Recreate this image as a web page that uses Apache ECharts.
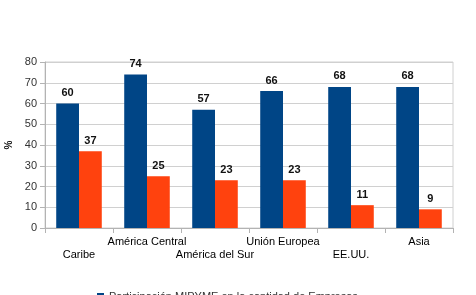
<!DOCTYPE html>
<html>
<head>
<meta charset="utf-8">
<script src="https://cdn.jsdelivr.net/npm/echarts@6/dist/echarts.min.js"></script>
<style>
  html, body { margin: 0; padding: 0; background: #fff; }
  #chart { width: 476px; height: 295px; }
</style>
</head>
<body>
<div id="chart"></div>
<script>
// categorías (regiones)
var regiones = ["Caribe", "América Central", "América del Sur", "Unión Europea", "EE.UU.", "Asia"]
// serie 1: participación en la cantidad de empresas
var empresas = [60, 74, 57, 66, 68, 68]
// serie 2: participación en el empleo
var empleo = [37, 25, 23, 23, 11, 9]
var nombres = ["Participación MIPYME en la cantidad de Empresas", "Participación MIPYME en el Empleo"]

var myChart = echarts.init(document.getElementById("chart"))
var fuente = "Liberation Sans, Arial, sans-serif"

var option = {
  animation: false,
  textStyle: { fontFamily: fuente },
  color: ["#004586", "#ff420e"],
  legend: {
    // sólo se ve la primera entrada, la otra queda fuera del recorte
    data: [nombres[0]],
    left: 92,
    top: 286,
    itemWidth: 7,
    itemHeight: 7,
    icon: "rect",
    textStyle: { fontSize: 11, color: "#333", fontFamily: fuente },
  },
  grid: {
    left: 45,
    right: 23,
    top: 62,
    bottom: 67,
    outerBoundsMode: "none",
    containLabel: false,
    show: true,
    borderColor: "#d0d0d0",
    borderWidth: 1,
  },
  xAxis: {
    type: "category",
    data: regiones,
    axisLine: { lineStyle: { color: "#b3b3b3" } },
    axisTick: { show: true, length: 5, lineStyle: { color: "#b3b3b3" } },
    axisLabel: {
      interval: 0,
      margin: 7,
      fontSize: 11,
      lineHeight: 13,
      color: "#000",
      fontFamily: fuente,
      // etiquetas escalonadas
      formatter: function (v, i) {
        return i % 2 === 0 ? "\n" + v : v
      },
    },
  },
  yAxis: {
    type: "value",
    min: 0,
    max: 80,
    interval: 10,
    name: "%",
    nameLocation: "middle",
    nameRotate: 90,
    nameGap: 31,
    nameTextStyle: { fontSize: 10, color: "#111", fontWeight: "bold" },
    axisLine: { show: true, lineStyle: { color: "#b3b3b3" } },
    axisTick: { show: true, length: 5, lineStyle: { color: "#b3b3b3" } },
    axisLabel: { fontSize: 11, color: "#333", margin: 8 },
    splitLine: { lineStyle: { color: "#d0d0d0" } },
  },
  series: [
    {
      name: nombres[0],
      type: "bar",
      data: empresas,
      barGap: "0%",
      barCategoryGap: "33%",
      label: { show: true, position: "top", distance: 5, fontSize: 11, fontWeight: "bold", color: "#111" },
    },
    {
      name: nombres[1],
      type: "bar",
      data: empleo,
      label: { show: true, position: "top", distance: 5, fontSize: 11, fontWeight: "bold", color: "#111" },
    },
  ],
}
myChart.setOption(option)
</script>
</body>
</html>
